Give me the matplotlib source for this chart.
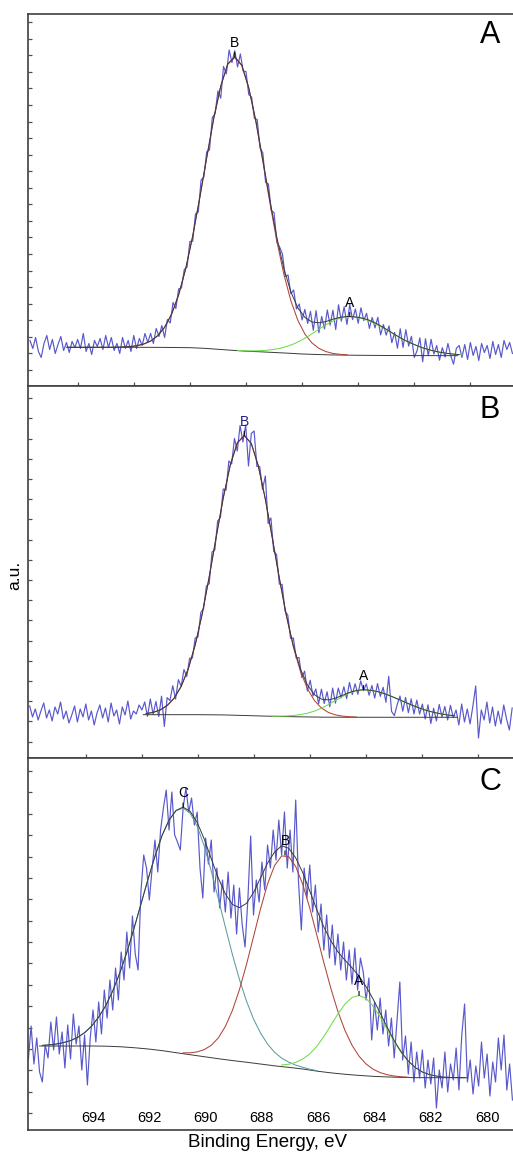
import numpy as np
import matplotlib.pyplot as plt

plt.rcParams['font.family'] = ['Liberation Sans', 'DejaVu Sans']

# ---------------- panel A ----------------
# raw spectrum, 0.1 eV steps starting at 695.7 eV
A_start = 695.7
A_counts = [46, 38, 49, 35, 29, 43, 51, 37, 47, 33, 42, 50, 36, 44, 34, 45, 39, 47, 38, 53,
            35, 43, 32, 46, 40, 48, 37, 51, 39, 49, 36,
            43, 33, 49, 38, 46, 35, 51, 38, 48, 41, 53, 44, 53, 43, 58, 50, 61, 49, 67, 63.5,
            84, 78, 97.6, 98.5, 117, 119.5, 145, 145.2, 172.5, 174.5, 206.5, 209.5, 234.7, 236.5,
            269, 273, 295.5, 288.3, 320, 312.5, 336.5, 324, 335.8, 319.5, 332.5, 315.5, 315, 291.8,
            289.5, 268, 267, 238.5, 233.7, 204, 202.5, 176, 174, 144.3, 139.5, 132.5, 110, 111.5,
            92.7, 96.5, 77.5, 82.5, 66.5, 77.1, 63, 75, 56.2, 75.8, 53.7, 70, 57.5, 76.5, 61.3,
            76.25, 57, 81.7, 65.3, 79.7, 62, 82, 66.9, 77.5, 63.2, 78.7, 65.9, 73.1, 58.1, 69,
            58.65, 69.2, 51.6, 61.95, 51.3, 60.6, 43.8, 54, 38.3, 57.7, 39.1, 56.8, 40.4, 50.2, 29,
            35.8, 48.7, 24.7, 47.7, 30.9, 47.15, 32.5, 40.9, 26.3, 38.8, 29.4, 43, 30.7, 22.3, 38.1,
            41, 29, 42, 27, 44, 31, 40, 26, 43, 34, 41, 28, 45, 32, 42, 29, 46, 37, 44, 33]
A_bg_e = [694.35, 692, 691, 690, 689.5, 689, 688.5, 688, 687.5, 687, 686.5, 686, 685.5, 685,
          684.5, 684, 683, 682, 680.45]
A_bg = [39.2, 39.2, 39.1, 38.8, 38.2, 37.2, 36.2, 35.3, 34.7, 34.0, 33.3, 32.5, 32.0, 31.6,
        31.4, 31.2, 31.0, 30.9, 30.8]
# fitted curves, 0.25 eV steps
A_red_start = 692.4
A_red = [39.5, 39.9, 40.7, 42.4, 45.4, 50.7, 59.2, 72.4, 91.6, 117.6, 150.2, 188.4, 228.7, 267.8,
         300.1, 322.1, 329.0, 321.0, 298.3, 265.2, 225.3, 184.2, 145.5, 112.3, 85.8, 66.1, 52.5,
         43.6, 38.1, 34.9, 33.05, 32.15, 31.7]
A_green_start = 688.3
A_green = [35.95, 35.7, 35.55, 35.75, 36.1, 36.9, 38.1, 40.0, 42.5, 45.9, 49.9, 54.45, 59.05,
           63.35, 66.8, 69.1, 69.85, 69.1, 67.45, 64.8, 61.35, 57.6, 53.6, 49.55, 45.8, 42.5,
           39.6, 37.25, 35.35, 33.9, 32.9, 32.15, 31.65]
A_env_start = 694.4
A_env = [39.2, 39.2, 39.2, 39.2, 39.2, 39.2, 39.2, 39.3, 39.5, 39.9, 40.7, 42.4, 45.4, 50.7,
         59.2, 72.4, 91.6, 117.6, 150.2, 188.4, 228.7, 267.9, 300.3, 322.5, 329.8, 321.3, 298.8,
         266.1, 226.7, 186.6, 149.3, 118.0, 94.7, 78.5, 69.1, 64.5, 63.7, 64.9, 67.3, 69.1, 70.0,
         69.7, 68.7, 66.7, 63.7, 59.8, 55.6, 51.2, 47.1, 43.8, 40.8, 38.2, 36.2, 34.6, 33.4,
         32.5, 31.9]

# ---------------- panel B ----------------
B_start = 696.0
B_counts = [52, 41, 49, 38, 47, 55, 40, 48, 37, 51, 44, 56, 39, 47, 35, 43, 52, 36, 49, 41,
            54, 38, 47, 33, 45, 53, 40, 50, 36, 55, 42, 48, 34, 51, 43, 57, 39, 47, 44, 53,
            48, 56, 41.6, 59, 43.6, 56.5, 41.5, 61.8, 31.5, 60.4, 57.3, 72.3, 58.9, 78.3, 71.6,
            88.4, 81.5, 99.7, 100, 120, 121, 145.5, 149.5, 172, 174.25, 206, 208, 237, 240.5, 269,
            268, 297, 294, 319.5, 307, 332.5, 316, 333, 292, 324.5, 327, 291.5, 291.5, 268.5, 282,
            234.5, 240, 206.5, 203.5, 173.85, 173.5, 147, 143, 119.5, 120, 100, 100.5, 80.5, 86.8,
            67, 77.7, 62, 69, 54.3, 68.85, 54.5, 66.2, 51.3, 69.9, 54.8, 69.9, 60.1, 71.2, 59.4,
            75.55, 63.4, 74.2, 63.7, 77.1, 67.3, 74.1, 62.8, 72.5, 59.9, 74.4, 61.6, 70.7, 55.7,
            81.7, 46.6, 42.4, 53.2, 62, 46.8, 60.55, 45.3, 59.2, 44, 57.9, 43.9, 53.9, 39, 53.2,
            34.4, 49.65, 37.1, 53.5, 41, 51.5, 38, 52.7, 40.4, 48, 33, 54, 36, 49, 34, 52, 72, 20,
            48, 38, 56, 35, 51, 32, 47, 34, 53, 39, 28, 50]
B_bg_e = [691.95, 690, 689.5, 689, 688.5, 688, 687.5, 687, 686.5, 686, 685.5, 684, 680.75]
B_bg = [43.3, 43.3, 43.2, 43.0, 42.6, 42.2, 41.8, 41.5, 41.2, 41.0, 40.8, 40.7, 40.7]
B_red_start = 691.85
B_red = [44.4, 45.6, 48.0, 52.4, 59.8, 71.6, 88.9, 113.0, 144.1, 181.25, 221.2, 260.0, 292.9,
         315.0, 322.5, 314.5, 292.1, 258.9, 219.8, 179.55, 142.2, 110.95, 86.75, 69.35, 57.45,
         49.95, 45.5, 43.1, 41.85, 41.25, 40.9]
B_green_start = 687.35
B_green = [41.84, 41.85, 42.0, 42.45, 43.35, 44.75, 46.85, 49.75, 53.4, 57.5, 61.55, 65.05,
           67.3, 68.2, 67.7, 66.4, 64.3, 61.6, 58.6, 55.55, 52.6, 49.9, 47.55, 45.65, 44.2,
           43.0, 42.2]
B_env_start = 691.85
B_env = [44.4, 45.6, 48.0, 52.4, 59.8, 71.6, 88.9, 113.0, 144.1, 181.25, 221.2, 260.0, 292.9,
         315.0, 322.5, 314.5, 292.1, 258.95, 219.95, 179.85, 142.8, 112.15, 88.95, 73.05, 63.35,
         58.85, 58.1, 59.8, 62.65, 65.55, 67.5, 68.3, 67.7, 66.4, 64.3, 61.6, 58.6, 55.55, 52.6,
         49.9, 47.55, 45.65, 44.2, 43.0, 42.2]

# ---------------- panel C ----------------
C_start = 696.3
C_counts = [70, 104, 66, 92, 58, 48, 85, 72, 108, 80, 113, 76, 98, 62, 105, 71, 116, 86, 104, 60,
            95, 45, 92, 120, 88, 128, 96, 140, 112, 150, 120, 162, 130, 178, 150, 198, 162, 214,
            176, 160, 238, 275, 262, 230, 262, 290, 258, 300, 322, 340, 300, 338, 295, 288, 280,
            322, 342, 318, 332, 305, 318, 262, 232, 292, 266, 290, 238, 262, 222, 250, 218, 258,
            212, 245, 196, 242, 205, 183, 230, 294, 215, 250, 228, 268, 240, 285, 262, 300, 270,
            310, 275, 318, 262, 300, 258, 330, 248, 200, 262, 232, 265, 218, 245, 198, 226, 180,
            215, 172, 205, 165, 196, 160, 188, 150, 180, 146, 182, 140, 172, 158, 130, 152, 90,
            128, 100, 132, 96, 120, 84, 112, 72, 110, 148, 70, 94, 56, 88, 48, 78, 52, 80, 42, 70,
            46, 72, 22, 60, 42, 78, 38, 66, 50, 82, 40, 95, 126, 48, 70, 36, 64, 44, 88, 52, 76,
            34, 68, 48, 92, 60, 95, 40, 66, 30]
C_bg_e = [695.9, 694, 693.5, 693, 692.5, 692, 691.5, 691, 690.5, 690, 689.5, 689, 688.5, 688,
          687.5, 687, 686.5, 686, 685.5, 685, 684.5, 684, 683.5, 683, 682.5, 682, 680.7]
C_bg = [84, 84, 83.8, 83.2, 82.2, 80.9, 79.2, 77.1, 75.1, 73.1, 71.1, 69.3, 67.6, 65.8, 64.0,
        62.5, 60.8, 58.7, 57.0, 55.6, 54.5, 53.6, 53.0, 52.6, 52.35, 52.3, 52.3]
C_teal_start = 695.8
C_teal = [84.6, 85.15, 86.0, 87.4, 89.4, 92.6, 97.3, 103.9, 112.9, 124.3, 139.1, 157.0, 177.6,
          201.0, 225.7, 250.5, 273.8, 294.4, 309.8, 319.3, 322.0, 316.8, 303.8, 283.9, 259.0,
          231.3, 203.1, 175.6, 150.7, 129.0, 111.1, 97.0, 86.0, 77.7, 71.9, 67.9, 64.9, 62.7,
          60.8, 59.4]
C_red_start = 690.8
C_red = [77.2, 77.2, 78.1, 80.4, 84.7, 92.1, 103.5, 119.5, 140.3, 165.4, 193.1, 221.1, 246.0,
         264.5, 274.1, 273.5, 263.5, 245.7, 221.9, 195.0, 167.4, 141.5, 118.5, 99.6, 84.8, 73.8,
         66.0, 60.8, 57.4, 55.3, 53.95, 53.25, 52.8]
C_green_start = 687.3
C_green = [65.0, 65.8, 67.6, 71.0, 76.1, 83.7, 93.4, 104.7, 116.1, 125.9, 132.5, 134.6, 131.5,
           123.9, 113.1, 100.6, 88.25, 77.45, 68.7, 62.4, 58.0, 55.4, 53.9]
C_env_start = 695.8
C_env = [84.6, 85.15, 86.0, 87.4, 89.4, 92.6, 97.3, 103.9, 112.9, 124.3, 139.1, 157.0, 177.6,
         201.0, 225.7, 250.5, 273.8, 294.5, 310.0, 319.7, 322.9, 318.7, 307.6, 291.0, 271.4,
         252.1, 236.2, 225.6, 222.4, 226.6, 237.3, 252.1, 266.9, 278.0, 284.2, 281.8, 272.2,
         257.4, 239.0, 220.3, 203.1, 189.0, 178.2, 169.8, 162.2, 153.8, 143.4, 131.0, 117.1,
         102.8, 89.35, 78.05, 69.0, 62.4, 58.0, 55.4, 53.9, 53.0, 52.6, 52.4, 52.3]

energy_ticks = [694, 692, 690, 688, 686, 684, 682, 680]

RAW = '#5858cc'
ENV = '#3a3a3a'
RED = '#b0443a'
GREEN = '#6fdc4a'
TEAL = '#5a9e9c'


def energies(start, step, n):
    return start - step * np.arange(n)


def draw_panel(ax, xlim, ylim, yticks, raw, bg, comps, env):
    ax.plot(energies(raw[0], 0.1, len(raw[1])), raw[1], color=RAW, lw=0.85)
    ax.plot(bg[0], bg[1], color=ENV, lw=0.7)
    for start, vals, col in comps:
        ax.plot(energies(start, 0.25, len(vals)), vals, color=col, lw=0.75)
    ax.plot(energies(env[0], 0.25, len(env[1])), env[1], color=ENV, lw=0.7)
    ax.set_xlim(*xlim)
    ax.set_ylim(*ylim)
    ax.set_xticks(energy_ticks)
    ax.set_yticks(yticks)
    ax.tick_params(axis='both', direction='in', length=3.2, width=0.9, color='#505050',
                   labelleft=False, labelbottom=False)
    ax.spines['right'].set_visible(False)
    for s in ['left', 'top', 'bottom']:
        ax.spines[s].set_linewidth(1.2)
        ax.spines[s].set_color('#404040')


def peak_label(ax, text, x, y, color='black'):
    ax.annotate(text, xy=(x, y), xytext=(0, 5), textcoords='offset points',
                ha='center', va='bottom', fontsize=10, color=color,
                arrowprops=dict(arrowstyle='-', color='black', lw=0.8, shrinkA=0, shrinkB=0))


fig = plt.figure(figsize=(5.13, 11.53), dpi=100)
left = 28.3 / 513
width = 1 - left
axA = fig.add_axes([left, 0.6648, width, 0.3231])
axB = fig.add_axes([left, 0.3426, width, 0.3222])
axC = fig.add_axes([left, 0.01995, width, 0.3226])

draw_panel(axA, (695.76, 678.48), (0, 372.5), np.arange(16.5, 366, 16.56),
           (A_start, A_counts), (A_bg_e, A_bg),
           [(A_red_start, A_red, RED), (A_green_start, A_green, GREEN)],
           (A_env_start, A_env))
draw_panel(axB, (696.05, 678.77), (0, 371.5), np.arange(16.3, 362, 20.2),
           (B_start, B_counts), (B_bg_e, B_bg),
           [(B_red_start, B_red, RED), (B_green_start, B_green, GREEN)],
           (B_env_start, B_env))
draw_panel(axC, (696.30, 679.08), (0, 372), np.arange(17, 362, 21.37),
           (C_start, C_counts), (C_bg_e, C_bg),
           [(C_teal_start, C_teal, TEAL), (C_red_start, C_red, RED),
            (C_green_start, C_green, GREEN)],
           (C_env_start, C_env))
axC.tick_params(axis='x', length=0, labelbottom=True, pad=-14, labelsize=10.5)

peak_label(axA, 'B', 688.4, 329.8)
peak_label(axA, 'A', 684.3, 70.0)
peak_label(axB, 'B', 688.35, 322.5, color='#20208a')
peak_label(axB, 'A', 684.1, 68.3)
peak_label(axC, 'C', 690.8, 322.9)
peak_label(axC, 'B', 687.18, 275.0)
peak_label(axC, 'A', 684.55, 134.6)

for ax, letter, y in [(axA, 'A', 0.944), (axB, 'B', 0.937), (axC, 'C', 0.936)]:
    ax.text(0.9526, y, letter, transform=ax.transAxes, fontsize=22, ha='center', va='center')

fig.text(0.029, 0.501, 'a.u.', rotation=90, fontsize=12.5, ha='center', va='center')
fig.text(0.5214, 0.0087, 'Binding Energy, eV', fontsize=13.5, ha='center', va='center')

fig.savefig('out.png', dpi=100)
